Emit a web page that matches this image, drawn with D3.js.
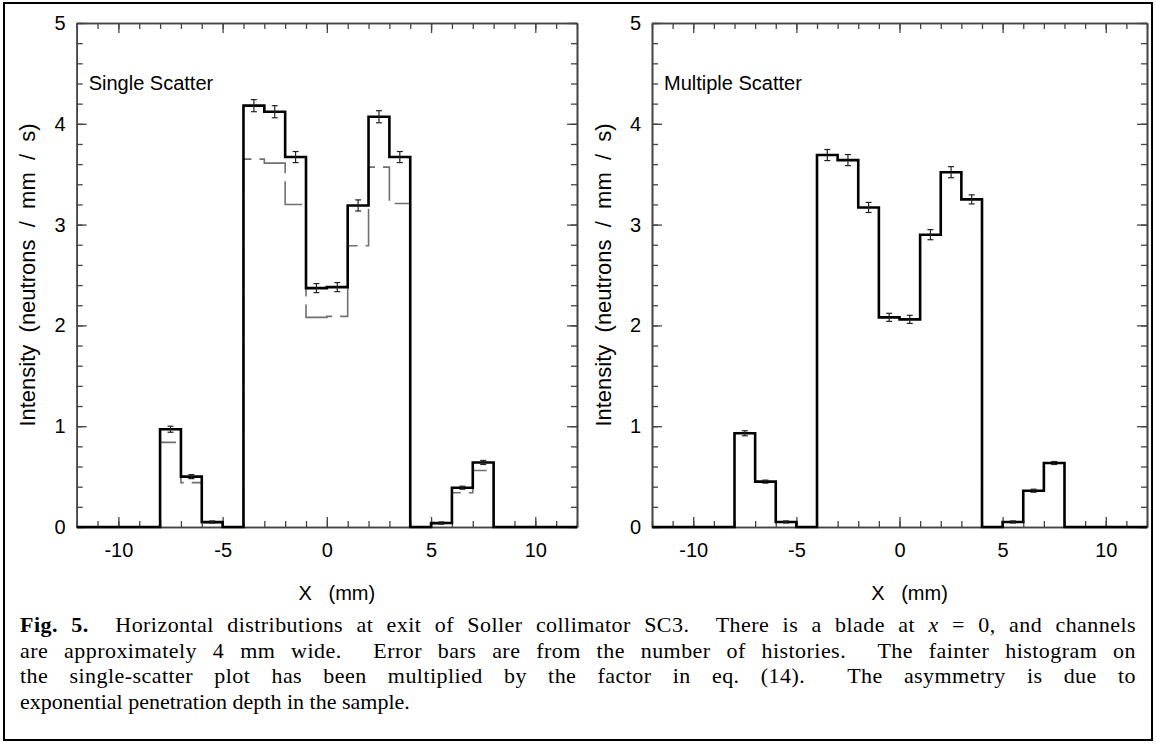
<!DOCTYPE html>
<html>
<head>
<meta charset="utf-8">
<script src="https://cdn.jsdelivr.net/npm/d3@7"></script>
<style>
  html, body { margin: 0; padding: 0; background: #fff; }
  svg { display: block; }
</style>
</head>
<body>
<svg id="chart" width="1156" height="744"></svg>
<script>
// ---------------- data ----------------
const binEdges = [-12,-11,-10,-9,-8,-7,-6,-5,-4,-3,-2,-1,0,1,2,3,4,5,6,7,8,9,10,11,12];
const singleScatter = [0,0,0,0,0.97,0.50,0.05,0,4.18,4.12,3.67,2.37,2.38,3.19,4.07,3.67,0,0.04,0.39,0.64,0,0,0,0];
const singleScatterErr = [0,0,0,0,0.03,0.02,0.01,0,0.06,0.06,0.055,0.045,0.045,0.055,0.06,0.055,0,0.01,0.015,0.02,0,0,0,0];
const singleScaled = [0,0,0,0,0.84,0.44,0.04,0,3.65,3.61,3.20,2.08,2.09,2.79,3.57,3.21,0,0.03,0.34,0.56,0,0,0,0];
const multipleScatter = [0,0,0,0,0.93,0.45,0.05,0,3.69,3.64,3.17,2.08,2.06,2.90,3.52,3.25,0,0.05,0.36,0.635,0,0,0,0];
const multipleScatterErr = [0,0,0,0,0.025,0.015,0.01,0,0.055,0.055,0.05,0.04,0.04,0.05,0.055,0.045,0,0.01,0.015,0.015,0,0,0,0];
const xMajorTicks = [-10,-5,0,5,10];
const xMinorTicks = [-12,-11,-10,-9,-8,-7,-6,-5,-4,-3,-2,-1,0,1,2,3,4,5,6,7,8,9,10,11,12];
const yMajorTicks = [0,1,2,3,4,5];
const yMinorTicks = [0,0.2,0.4,0.6,0.8,1,1.2,1.4,1.6,1.8,2,2.2,2.4,2.6,2.8,3,3.2,3.4,3.6,3.8,4,4.2,4.4,4.6,4.8,5];
const panelTitles = ["Single Scatter", "Multiple Scatter"];
const yTitle = "Intensity  (neutrons  /  mm  /  s)";
const xTitle = "X   (mm)";
const captionLines = [
  [{t:"Fig. 5.", b:true},{t:"  Horizontal distributions at exit of Soller collimator SC3.  There is a blade at "},{t:"x", i:true},{t:" = 0, and channels"}],
  [{t:"are approximately 4 mm wide.  Error bars are from the number of histories.  The fainter histogram on"}],
  [{t:"the single-scatter plot has been multiplied by the factor in eq. (14).  The asymmetry is due to"}],
  [{t:"exponential penetration depth in the sample."}]
];

// ---------------- layout ----------------
const SANS = '"Liberation Sans", Arial, sans-serif';
const SERIF = '"Liberation Serif", "Times New Roman", serif';
const svg = d3.select("#chart");
svg.append("rect").attr("x",4).attr("y",3).attr("width",1148).attr("height",737)
  .attr("fill","none").attr("stroke","#000").attr("stroke-width",2);

const panels = [
  {x0:76.7, x1:577, title:panelTitles[0], main:singleScatter, err:singleScatterErr, faint:singleScaled, yTitleX:27},
  {x0:652, x1:1147, title:panelTitles[1], main:multipleScatter, err:multipleScatterErr, faint:null, yTitleX:603}
];
const yTop = 23, yBot = 527;

panels.forEach(p => {
  const x = d3.scaleLinear().domain([-12,12]).range([p.x0,p.x1]);
  const y = d3.scaleLinear().domain([0,5]).range([yBot,yTop]);
  const g = svg.append("g");
  const axisColor = "#444";

  function styleAxis(sel){
    sel.selectAll(".domain").attr("stroke",axisColor).attr("stroke-width",1.6);
    sel.selectAll(".tick line").attr("stroke",axisColor).attr("stroke-width",1.3);
    sel.selectAll("text").style("font-size","20px").attr("fill","#000")
      .style("font-family",SANS);
  }
  // minor ticks
  g.append("g").attr("transform",`translate(0,${yBot})`)
    .call(d3.axisBottom(x).tickValues(xMinorTicks).tickSizeInner(-6).tickSizeOuter(0).tickFormat(""))
    .call(styleAxis);
  g.append("g").attr("transform",`translate(0,${yTop})`)
    .call(d3.axisTop(x).tickValues(xMinorTicks).tickSizeInner(-6).tickSizeOuter(0).tickFormat(""))
    .call(styleAxis);
  g.append("g").attr("transform",`translate(${p.x0},0)`)
    .call(d3.axisLeft(y).tickValues(yMinorTicks).tickSizeInner(-6).tickSizeOuter(0).tickFormat(""))
    .call(styleAxis);
  g.append("g").attr("transform",`translate(${p.x1},0)`)
    .call(d3.axisRight(y).tickValues(yMinorTicks).tickSizeInner(-6).tickSizeOuter(0).tickFormat(""))
    .call(styleAxis);
  // major ticks
  g.append("g").attr("transform",`translate(0,${yBot})`)
    .call(d3.axisBottom(x).tickValues(xMajorTicks).tickSizeInner(-10).tickSizeOuter(0).tickPadding(16).tickFormat(d3.format("d")))
    .call(styleAxis);
  g.append("g").attr("transform",`translate(0,${yTop})`)
    .call(d3.axisTop(x).tickValues(xMajorTicks).tickSizeInner(-10).tickSizeOuter(0).tickFormat(""))
    .call(styleAxis);
  g.append("g").attr("transform",`translate(${p.x0},0)`)
    .call(d3.axisLeft(y).tickValues(yMajorTicks).tickSizeInner(-10).tickSizeOuter(0).tickPadding(11).tickFormat(d3.format("d")))
    .call(styleAxis);
  g.append("g").attr("transform",`translate(${p.x1},0)`)
    .call(d3.axisRight(y).tickValues(yMajorTicks).tickSizeInner(-10).tickSizeOuter(0).tickFormat(""))
    .call(styleAxis);
  g.selectAll(".tick text").text(function(){ return this.textContent.replace("\u2212","-"); });

  const stepLine = d3.line().x(d => x(d[0])).y(d => y(d[1])).curve(d3.curveStepAfter);
  const pts = vals => {
    const a = vals.map((v,i) => [binEdges[i], v]);
    a.push([binEdges[binEdges.length-1], vals[vals.length-1]]);
    return a;
  };
  if (p.faint) {
    g.append("path").attr("d", stepLine(pts(p.faint)))
      .attr("fill","none").attr("stroke","#707070").attr("stroke-width",1.6)
      .attr("stroke-dasharray","40,8");
  }
  g.append("path").attr("d", stepLine(pts(p.main)))
    .attr("fill","none").attr("stroke","#000").attr("stroke-width",2.6)
    .attr("stroke-linejoin","miter");

  // error bars
  const eb = g.append("g").attr("stroke","#222").attr("stroke-width",1.2);
  p.main.forEach((v,i) => {
    const e = p.err[i];
    if (!e) return;
    const cx = x((binEdges[i]+binEdges[i+1])/2);
    const yt = y(v+e), yb = y(v-e);
    eb.append("line").attr("x1",cx).attr("x2",cx).attr("y1",yt).attr("y2",yb);
    eb.append("line").attr("x1",cx-3).attr("x2",cx+3).attr("y1",yt).attr("y2",yt);
    eb.append("line").attr("x1",cx-3).attr("x2",cx+3).attr("y1",yb).attr("y2",yb);
  });

  // panel title
  g.append("text").attr("x", x(-12) + 12).attr("y", 90)
    .style("font-family",SANS).style("font-size","20px").text(p.title);
  // y title
  g.append("text").attr("transform",`translate(${p.yTitleX},${(yTop+yBot)/2}) rotate(-90)`)
    .attr("text-anchor","middle").attr("dy","0.35em")
    .style("font-family",SANS).style("font-size","22px")
    .style("white-space","pre").text(yTitle);
  // x title
  g.append("text").attr("x",(p.x0+p.x1)/2 + 10).attr("y",600)
    .attr("text-anchor","middle")
    .style("font-family",SANS).style("font-size","20px")
    .style("white-space","pre").text(xTitle);
});

// caption (justified: part of the slack goes between letters, the rest between words)
const capX0 = 20, capX1 = 1136;
const capY = [632, 658, 683, 709];
captionLines.forEach((line, li) => {
  const t = svg.append("text").attr("x",capX0).attr("y",capY[li])
    .style("font-family",SERIF).style("font-size","22px").style("white-space","pre");
  line.forEach(seg => {
    const s = t.append("tspan").text(seg.t);
    if (seg.b) s.style("font-weight","bold");
    if (seg.i) s.style("font-style","italic");
  });
  if (li < captionLines.length - 1) {
    const full = line.map(s => s.t).join("");
    const nChars = full.length;
    const w0 = t.node().getComputedTextLength();
    const ls = Math.max(0, Math.min(0.45, (capX1 - capX0 - w0) * 0.4 / nChars));
    t.style("letter-spacing", ls + "px");
    const w = t.node().getComputedTextLength();
    const nSpaces = (full.match(/ /g) || []).length;
    const ws = (capX1 - capX0 - w) / nSpaces;
    t.style("word-spacing", ws + "px");
  }
});
</script>
</body>
</html>
